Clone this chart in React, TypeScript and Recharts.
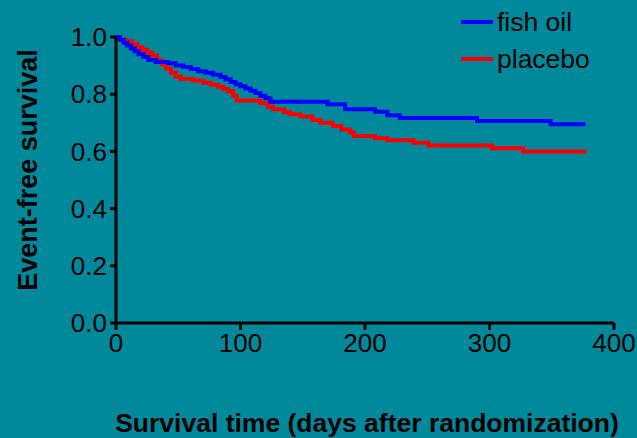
import { Label, Line, LineChart, XAxis, YAxis } from "recharts";

// Kaplan-Meier step points: day, event-free survival
const fishOilDays = [0, 3, 6, 9, 12, 15, 18, 22, 26, 32, 42, 48, 54, 60, 66, 72, 78, 84, 88, 92, 96, 100, 104, 108, 112, 116, 120, 124, 170, 184, 208, 218, 228, 290, 349, 377];
const fishOilSurv = [1.0, 0.99, 0.98, 0.97, 0.96, 0.95, 0.94, 0.93, 0.92, 0.913, 0.908, 0.9, 0.895, 0.888, 0.88, 0.875, 0.868, 0.86, 0.852, 0.843, 0.835, 0.828, 0.82, 0.812, 0.804, 0.795, 0.786, 0.774, 0.765, 0.747, 0.739, 0.726, 0.717, 0.706, 0.695, 0.695];

const placeboDays = [0, 2, 8, 13, 17, 21, 25, 29, 33, 37, 40, 44, 48, 52, 62, 70, 76, 82, 86, 90, 94, 97, 116, 122, 126, 135, 140, 148, 158, 164, 174, 181, 188, 191, 208, 218, 239, 251, 302, 327, 378];
const placeboSurv = [1.0, 0.99, 0.985, 0.975, 0.965, 0.955, 0.945, 0.935, 0.92, 0.905, 0.89, 0.875, 0.862, 0.853, 0.848, 0.84, 0.833, 0.826, 0.818, 0.81, 0.795, 0.778, 0.768, 0.757, 0.747, 0.737, 0.73, 0.722, 0.71, 0.7, 0.689, 0.677, 0.666, 0.654, 0.646, 0.639, 0.63, 0.621, 0.611, 0.6, 0.6];

const xTicks = [0, 100, 200, 300, 400];
const yTicks = [0, 0.2, 0.4, 0.6, 0.8, 1.0];

const series = [
  { name: "fish oil", color: "#0000ff" },
  { name: "placebo", color: "#ff0000" },
];

const fishOil = fishOilDays.map((t, i) => ({ t, s: fishOilSurv[i] }));
const placebo = placeboDays.map((t, i) => ({ t, s: placeboSurv[i] }));

const FONT = "'Liberation Sans', Arial, sans-serif";
const BG = "#00899a";

function LegendBox() {
  return (
    <svg width={175} height={80} style={{ position: "absolute", left: 460, top: 4, fontFamily: FONT }}>
      {series.map((s, i) => (
        <g key={s.name} transform={`translate(0, ${i * 37})`}>
          <line x1={1} x2={33} y1={18} y2={18} stroke={s.color} strokeWidth={4} />
          <text x={37} y={27} fontSize={26.5} fill="#000">
            {s.name}
          </text>
        </g>
      ))}
    </svg>
  );
}

export default function App() {
  return (
    <div style={{ position: "absolute", left: 0, top: 0, width: 637, height: 438, background: BG }}>
      <LineChart
        width={637}
        height={438}
        margin={{ top: 37, right: 23, left: 60, bottom: 15 }}
        style={{ fontFamily: FONT }}
      >
        <XAxis
          type="number"
          dataKey="t"
          domain={[0, 400]}
          ticks={xTicks}
          height={100}
          stroke="#000"
          strokeWidth={3}
          tickSize={7}
          tick={{ fill: "#000", fontSize: 26, dy: 2 }}
        >
          <Label
            content={() => (
              <text x={367} y={432} textAnchor="middle" fontSize={26.5} fontWeight="bold" fill="#000" fontFamily={FONT}>
                Survival time (days after randomization)
              </text>
            )}
          />
        </XAxis>
        <YAxis
          type="number"
          dataKey="s"
          domain={[0, 1]}
          ticks={yTicks}
          width={56}
          stroke="#000"
          strokeWidth={3}
          tickSize={6}
          tickFormatter={(v: number) => v.toFixed(1)}
          tick={{ fill: "#000", fontSize: 26, dx: -1 }}
        >
          <Label
            content={() => (
              <text
                x={37}
                y={170}
                transform="rotate(-90 37 170)"
                textAnchor="middle"
                fontSize={27}
                fontWeight="bold"
                fill="#000"
                fontFamily={FONT}
              >
                Event-free survival
              </text>
            )}
          />
        </YAxis>
        <Line
          data={placebo}
          dataKey="s"
          name="placebo"
          type="stepAfter"
          stroke="#ff0000"
          strokeWidth={4}
          dot={false}
          isAnimationActive={false}
        />
        <Line
          data={fishOil}
          dataKey="s"
          name="fish oil"
          type="stepAfter"
          stroke="#0000ff"
          strokeWidth={4}
          dot={false}
          isAnimationActive={false}
        />
      </LineChart>
      <LegendBox />
    </div>
  );
}
